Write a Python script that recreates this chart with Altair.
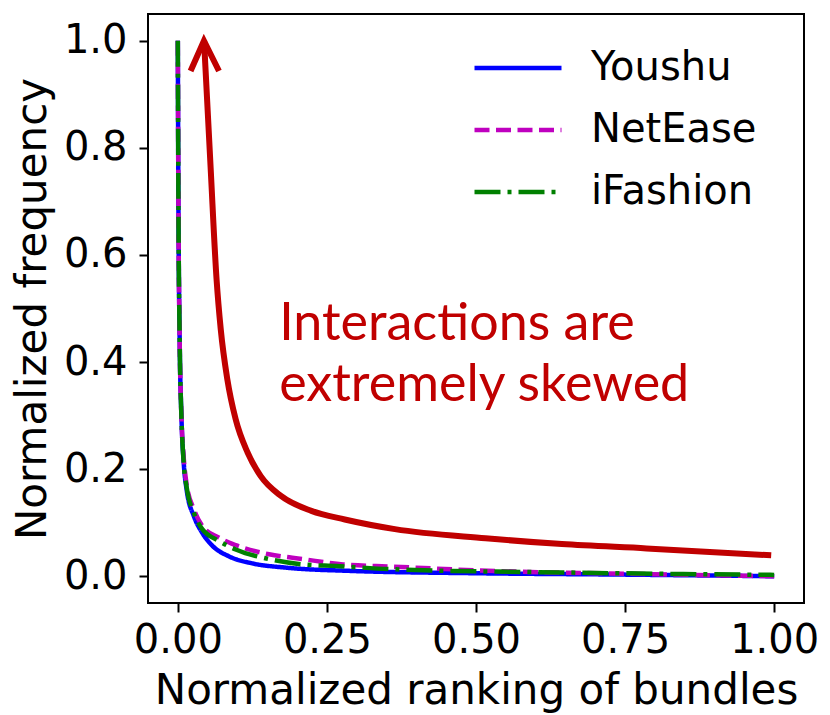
import altair as alt
import pandas as pd

# ---------------- data ----------------
series_names = ["Youshu", "NetEase", "iFashion"]
series_colors = ["#0000ff", "#bf00bf", "#008000"]
series_dashes = [[1, 0], [15, 6.5], [26, 7, 4, 7]]

youshu_x = [0.0, 0.001, 0.003, 0.006, 0.010, 0.015, 0.027, 0.041, 0.058, 0.086, 0.125, 0.182, 0.288, 0.50, 0.75, 1.0]
youshu_y = [1.0, 0.70, 0.45, 0.30, 0.21, 0.16, 0.112, 0.081, 0.057, 0.037, 0.024, 0.016, 0.010, 0.0056, 0.003, 0.0]

netease_x = [0.0, 0.001, 0.003, 0.006, 0.010, 0.015, 0.027, 0.041, 0.069, 0.097, 0.153, 0.21, 0.277, 0.36, 0.50, 0.786, 1.0]
netease_y = [1.0, 0.70, 0.45, 0.30, 0.22, 0.17, 0.125, 0.094, 0.072, 0.058, 0.041, 0.032, 0.022, 0.018, 0.011, 0.004, 0.0]

ifashion_x = [0.0, 0.001, 0.003, 0.006, 0.010, 0.015, 0.027, 0.041, 0.069, 0.097, 0.153, 0.21, 0.266, 0.36, 0.644, 1.0]
ifashion_y = [1.0, 0.70, 0.45, 0.30, 0.21, 0.165, 0.118, 0.088, 0.066, 0.050, 0.032, 0.022, 0.019, 0.013, 0.007, 0.0025]

arrow_x = [0.044, 0.055, 0.065, 0.072, 0.083, 0.097, 0.117, 0.139, 0.173, 0.224, 0.280, 0.364, 0.516, 0.644, 0.786, 0.995]
arrow_y = [1.0, 0.763, 0.554, 0.461, 0.368, 0.293, 0.231, 0.187, 0.150, 0.122, 0.106, 0.088, 0.071, 0.060, 0.052, 0.039]

head_x = [0.0214, 0.0438, 0.069]
head_y = [0.9435, 1.0, 0.9435]

annot_lines = ["Interactions are", "extremely skewed"]
annot_x = [0.170, 0.170]
annot_y = [0.442, 0.327]

x_ticks = [0.0, 0.25, 0.5, 0.75, 1.0]
y_ticks = [0.0, 0.2, 0.4, 0.6, 0.8, 1.0]

# ---------------- tables ----------------
rows = []
for name, xs, ys in [("Youshu", youshu_x, youshu_y),
                     ("NetEase", netease_x, netease_y),
                     ("iFashion", ifashion_x, ifashion_y)]:
    for i, (a, b) in enumerate(zip(xs, ys)):
        rows.append({"x": a, "y": b, "series": name, "order": i})
df_lines = pd.DataFrame(rows)
df_arrow = pd.DataFrame({"x": arrow_x, "y": arrow_y, "order": list(range(len(arrow_x)))})
df_head = pd.DataFrame({"x": head_x, "y": head_y, "order": list(range(len(head_x)))})
df_text = pd.DataFrame({"x": annot_x, "y": annot_y, "text": annot_lines})

xscale = alt.Scale(domain=[-0.05, 1.05], nice=False, zero=False)
yscale = alt.Scale(domain=[-0.05, 1.05], nice=False, zero=False)

xaxis = alt.Axis(values=x_ticks, format=".2f", title="Normalized ranking of bundles",
                 grid=False, domain=False, tickSize=9, tickWidth=2, tickColor="black",
                 labelPadding=8, titlePadding=10, labelFlush=False)
yaxis = alt.Axis(values=y_ticks, format=".1f", title="Normalized frequency",
                 grid=False, domain=False, tickSize=9, tickWidth=2, tickColor="black",
                 labelPadding=12, titlePadding=9, labelFlush=False)

lines = alt.Chart(df_lines).mark_line(strokeWidth=4.5, interpolate="monotone").encode(
    x=alt.X("x:Q", scale=xscale, axis=xaxis),
    y=alt.Y("y:Q", scale=yscale, axis=yaxis),
    color=alt.Color("series:N", scale=alt.Scale(domain=series_names, range=series_colors),
                    legend=alt.Legend(title=None)),
    strokeDash=alt.StrokeDash("series:N", scale=alt.Scale(domain=series_names, range=series_dashes),
                              legend=alt.Legend(title=None)),
    order="order:Q",
)

arrow = alt.Chart(df_arrow).mark_line(color="#c00000", strokeWidth=6, interpolate="monotone").encode(
    x=alt.X("x:Q", scale=xscale), y=alt.Y("y:Q", scale=yscale), order="order:Q"
)
head = alt.Chart(df_head).mark_line(color="#c00000", strokeWidth=6, strokeCap="butt").encode(
    x=alt.X("x:Q", scale=xscale), y=alt.Y("y:Q", scale=yscale), order="order:Q"
)
text = alt.Chart(df_text).mark_text(align="left", baseline="alphabetic", font="Lato",
                                    fontSize=52, color="#c00000").encode(
    x=alt.X("x:Q", scale=xscale), y=alt.Y("y:Q", scale=yscale), text="text:N"
)

chart = alt.layer(lines, arrow, head, text).properties(
    width=656, height=589,
    autosize=alt.AutoSizeParams(type="none"),
    padding={"left": 140, "top": 6, "right": 16, "bottom": 112},
).configure_view(
    stroke="black", strokeWidth=2
).configure_axis(
    labelFont="DejaVu Sans", labelFontSize=40, labelColor="black",
    titleFont="DejaVu Sans", titleFontSize=42, titleColor="black", titleFontWeight="normal",
).configure_legend(
    orient="none", legendX=324, legendY=34, padding=0,
    symbolType="stroke", symbolSize=7569, symbolStrokeWidth=4.5,
    labelFont="DejaVu Sans", labelFontSize=40, labelColor="black", labelLimit=400,
    labelOffset=27, clipHeight=40, rowPadding=22,
)

chart.save("out.html", embed_options={"renderer": "svg", "actions": False})
